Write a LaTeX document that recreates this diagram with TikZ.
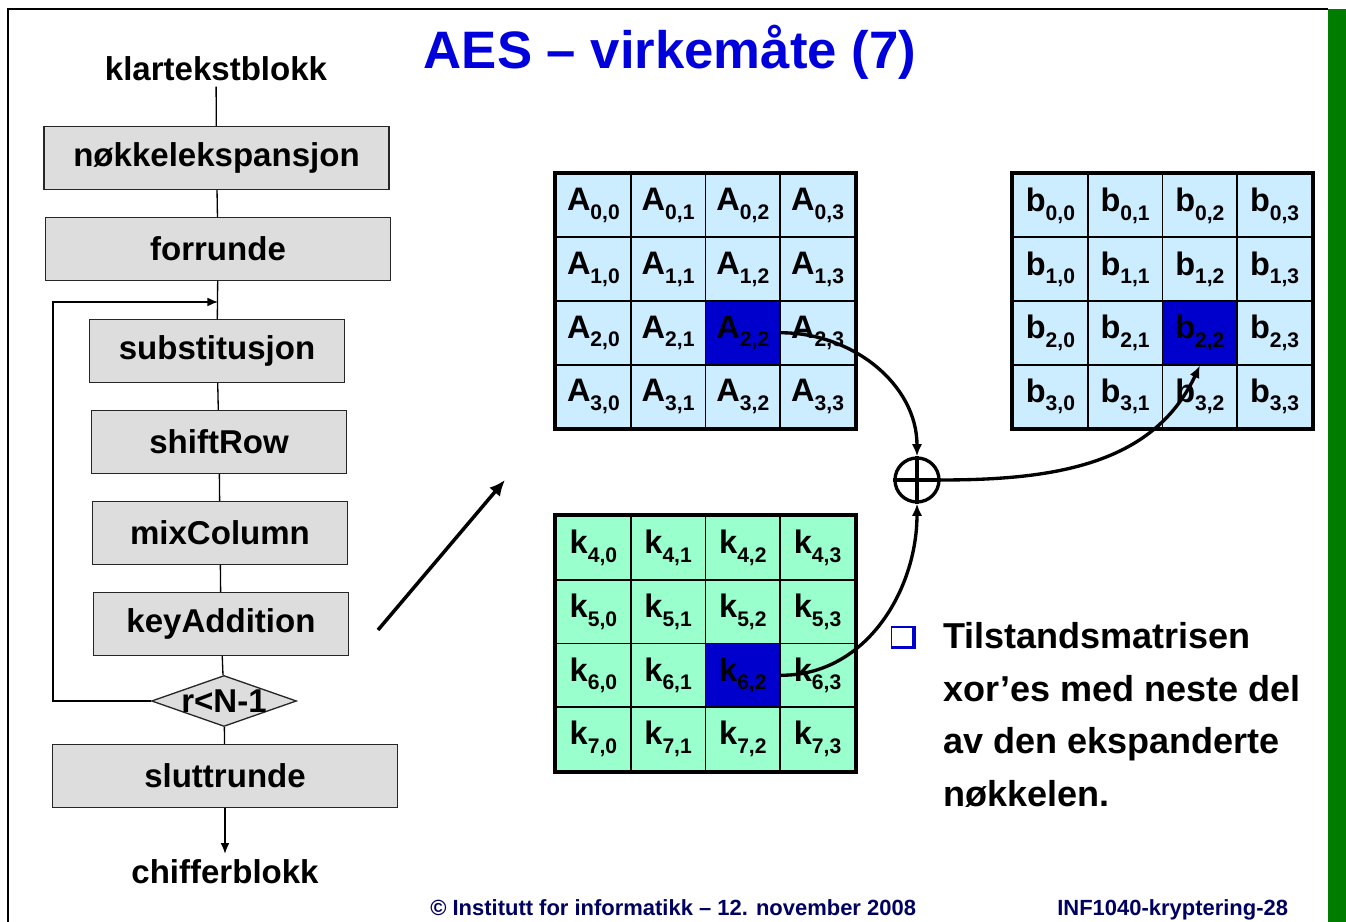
\documentclass[tikz,border=0pt]{standalone}
\usepackage{fontspec}
\setmainfont{Liberation Sans}
\usetikzlibrary{matrix,shapes.geometric,arrows.meta}

\definecolor{boxgray}{RGB}{221,221,221}
\definecolor{stateblue}{RGB}{204,236,255}
\definecolor{keygreen}{RGB}{153,255,204}
\definecolor{hlblue}{RGB}{0,0,204}
\definecolor{titleblue}{RGB}{0,0,220}
\definecolor{bargreen}{RGB}{0,125,0}
\definecolor{footblue}{RGB}{0,0,96}

\newcommand{\flowfont}{\fontsize{18.8}{22}\selectfont\bfseries}
\newcommand{\cellfont}{\fontsize{18.5}{21}\selectfont\bfseries}
\newcommand{\cellsub}[2]{#1\raisebox{-.5ex}{\fontsize{12}{13}\selectfont#2}}

\tikzset{
  wide/.style={draw=black!85, fill=boxgray, line width=0.75pt,
    minimum width=6.9cm, minimum height=1.26cm, inner sep=0pt, font=\flowfont},
  narrow/.style={wide, minimum width=5.1cm},
  test/.style={diamond, draw=black!85, fill=boxgray, line width=0.75pt,
    minimum width=2.9cm, minimum height=1.02cm, inner sep=0pt},
  cell/.style={draw, line width=1.1pt, minimum width=1.495cm,
    minimum height=1.272cm, inner sep=0pt, font=\cellfont},
  hl/.style={fill=hlblue},
  grid/.style={matrix of nodes, draw, line width=2.3pt, inner sep=0pt,
    column sep=-1.1pt, row sep=-1.1pt},
  flow/.style={line width=1.9pt, -{Latex[length=7pt,width=6pt]}},
  footer/.style={font=\fontsize{12.5}{14}\selectfont\bfseries, text=footblue, inner sep=0pt}
}

\begin{document}
\begin{tikzpicture}[x=0.02cm, y=0.02cm]
  \useasboundingbox (0,0) rectangle (1346,922);
  % frame
  \fill[bargreen] (1328,0) rectangle (1346,913);
  \draw[line width=1.2pt] (8,0) -- (8,913) -- (1328,913);

  \node[font=\fontsize{30}{36}\selectfont\bfseries, text=titleblue] (title) at (670,870) {AES – virkemåte (7)};

  % flowchart
  \node[font=\flowfont, inner sep=3pt] (klar) at (216,853) {klartekstblokk};
  \node[wide] (kexp) at (216.5,764) {nøkkelekspansjon};
  \node[wide] (pre) at (218,673) {forrunde};
  \node[narrow] (sub) at (217,571) {substitusjon};
  \node[narrow] (shift) at (219,480) {shiftRow};
  \node[narrow] (mix) at (220,389) {mixColumn};
  \node[narrow] (add) at (221,298) {keyAddition};
  \node[test] (test) at (224,221) {};
  \node[font=\flowfont] (testlbl) at (224,221) {r<N-1};
  \node[wide] (last) at (225,146) {sluttrunde};
  \node[font=\flowfont] (chif) at (225,50) {chifferblokk};
  \coordinate (back) at (53,620);
  \coordinate (join) at (218,620);

  \begin{scope}[line width=0.75pt]
    \draw (klar) -- (kexp);
    \draw (kexp) -- (pre);
    \draw (pre) -- (sub);
    \draw (sub) -- (shift);
    \draw (shift) -- (mix);
    \draw (mix) -- (add);
    \draw (add) -- (test);
    \draw (test) -- (last);
    \draw[-{Latex[length=6pt,width=5pt]}] (last) -- (chif);
    \draw[-{Latex[length=6pt,width=5pt]}] (test.west) -| (back) -- (join);
  \end{scope}

  \coordinate (from) at (378,292);
  \coordinate (into) at (505,442);
  \draw[line width=2pt, -{Latex[length=9pt,width=8pt]}] (from) -- (into);

  % state, key and result
  \matrix (A) [grid, nodes={cell, fill=stateblue}] at (705.5,621) {
    \cellsub{A}{0,0} & \cellsub{A}{0,1} & \cellsub{A}{0,2} & \cellsub{A}{0,3}\\
    \cellsub{A}{1,0} & \cellsub{A}{1,1} & \cellsub{A}{1,2} & \cellsub{A}{1,3}\\
    \cellsub{A}{2,0} & \cellsub{A}{2,1} & |[hl]| \cellsub{A}{2,2} & \cellsub{A}{2,3}\\
    \cellsub{A}{3,0} & \cellsub{A}{3,1} & \cellsub{A}{3,2} & \cellsub{A}{3,3}\\
  };
  \matrix (B) [grid, nodes={cell, fill=stateblue}] at (1162.5,621) {
    \cellsub{b}{0,0} & \cellsub{b}{0,1} & \cellsub{b}{0,2} & \cellsub{b}{0,3}\\
    \cellsub{b}{1,0} & \cellsub{b}{1,1} & \cellsub{b}{1,2} & \cellsub{b}{1,3}\\
    \cellsub{b}{2,0} & \cellsub{b}{2,1} & |[hl]| \cellsub{b}{2,2} & \cellsub{b}{2,3}\\
    \cellsub{b}{3,0} & \cellsub{b}{3,1} & \cellsub{b}{3,2} & \cellsub{b}{3,3}\\
  };
  \matrix (K) [grid, nodes={cell, fill=keygreen}] at (705.5,278.5) {
    \cellsub{k}{4,0} & \cellsub{k}{4,1} & \cellsub{k}{4,2} & \cellsub{k}{4,3}\\
    \cellsub{k}{5,0} & \cellsub{k}{5,1} & \cellsub{k}{5,2} & \cellsub{k}{5,3}\\
    \cellsub{k}{6,0} & \cellsub{k}{6,1} & |[hl]| \cellsub{k}{6,2} & \cellsub{k}{6,3}\\
    \cellsub{k}{7,0} & \cellsub{k}{7,1} & \cellsub{k}{7,2} & \cellsub{k}{7,3}\\
  };

  \node[circle, draw, line width=1.9pt, minimum size=0.88cm, inner sep=0pt] (xor) at (917,442) {};
  \draw[line width=1.9pt] (xor.north) -- (xor.south) (xor.west) -- (xor.east);

  \draw[flow] (A-3-3.east) to[out=0,in=90] (xor.north);
  \draw[flow] (K-3-3.east) to[out=0,in=-90] (xor.south);
  \draw[flow] (xor.east) to[out=0,in=-115] (B-3-3.south);

  % bullet text
  \node[draw=hlblue, fill=white, line width=0.7pt, minimum width=0.44cm,
    minimum height=0.4cm, inner sep=0pt] (bul) at (902.5,285) {};
  \draw[hlblue, line width=2pt] (bul.south west) -- (bul.south east) -- (bul.north east);
  \node[anchor=north west, inner sep=0pt, align=left,
    font=\fontsize{20.5}{30}\selectfont\bfseries] (note) at (943,300)
    {Tilstandsmatrisen\\xor’es med neste del\\av den ekspanderte\\nøkkelen.};

  \node[footer, anchor=base west] (copy) at (430,6) {© Institutt for informatikk – 12. november 2008};
  \node[footer, anchor=base west] (page) at (1057,6) {INF1040-kryptering-28};
\end{tikzpicture}
\end{document}
